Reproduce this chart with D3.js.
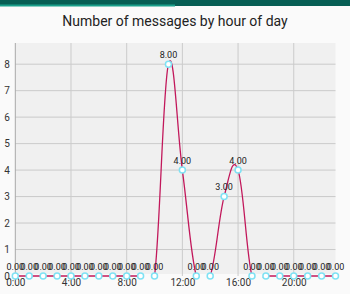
<!DOCTYPE html>
<html>
<head>
<meta charset="utf-8">
<script src="https://cdn.jsdelivr.net/npm/d3@7"></script>
<style>
  body { margin: 0; background: #fafafa; }
  svg { display: block; font-family: Roboto, "Noto Sans", sans-serif; }
</style>
</head>
<body>
<svg id="chart"></svg>
<script>
const hours = d3.range(0, 24);
const counts = [0, 0, 0, 0, 0, 0, 0, 0, 0, 0, 0, 8, 4, 0, 0, 3, 4, 0, 0, 0, 0, 0, 0, 0];
const xTicks = [0, 4, 8, 12, 16, 20];
const yTicks = [0, 1, 2, 3, 4, 5, 6, 7, 8];
const title = "Number of messages by hour of day";

const width = 350, height = 294;
const margin = {top: 43, right: 14.5, bottom: 18, left: 15.3};

const svg = d3.select("#chart")
    .attr("width", width)
    .attr("height", height);

// app bar strip at the top
svg.append("rect").attr("x", 0).attr("y", 0).attr("width", width).attr("height", 6).attr("fill", "#075e54");
svg.append("rect").attr("x", 0).attr("y", 4.5).attr("width", 175).attr("height", 2).attr("fill", "#1a9f8a");

svg.append("text")
    .attr("x", width / 2)
    .attr("y", 25.5)
    .attr("text-anchor", "middle")
    .attr("font-size", 14)
    .attr("fill", "#222")
    .text(title);

const x = d3.scaleLinear()
    .domain([0, 23])
    .range([margin.left, width - margin.right]);

const y = d3.scaleLinear()
    .domain([0, 8.8])
    .range([height - margin.bottom, margin.top]);

// line is clipped just under the zero line, like the original chart
svg.append("defs").append("clipPath")
    .attr("id", "plot-clip")
    .append("rect")
    .attr("x", 0)
    .attr("y", y(8.8) - 5)
    .attr("width", width)
    .attr("height", y(0) - y(8.8) + 6.6);

svg.append("rect")
    .attr("x", x(0))
    .attr("y", y(8.8))
    .attr("width", x(23) - x(0))
    .attr("height", y(0) - y(8.8) - 2)
    .attr("fill", "#f0f0f0");

// grid
svg.append("g")
    .selectAll("line")
    .data(yTicks.filter(d => d > 0))
    .enter().append("line")
    .attr("x1", x(0)).attr("x2", x(23))
    .attr("y1", d => y(d)).attr("y2", d => y(d))
    .attr("stroke", "#c0c0c0")
    .attr("stroke-width", 0.8);

svg.append("g")
    .selectAll("line")
    .data(xTicks.filter(d => d > 0))
    .enter().append("line")
    .attr("x1", d => x(d)).attr("x2", d => x(d))
    .attr("y1", y(8.8)).attr("y2", y(0))
    .attr("stroke", "#cbcbcb")
    .attr("stroke-width", 1);

// y axis line
svg.append("line")
    .attr("x1", x(0)).attr("x2", x(0))
    .attr("y1", y(8.8)).attr("y2", y(0))
    .attr("stroke", "#a8a8a8")
    .attr("stroke-width", 1);

const yAxis = svg.append("g")
    .attr("transform", "translate(" + (x(0) - 5.5) + ",0)")
    .call(d3.axisLeft(y).tickValues(yTicks).tickSize(0).tickPadding(0));
yAxis.select(".domain").remove();
yAxis.selectAll("text").attr("font-size", 10).attr("fill", "#333").attr("font-family", "Roboto");

const xAxis = svg.append("g")
    .attr("transform", "translate(0," + (y(0) + 3) + ")")
    .call(d3.axisBottom(x).tickValues(xTicks).tickFormat(d => d + ":00").tickSize(0).tickPadding(0));
xAxis.select(".domain").remove();
xAxis.selectAll("text").attr("font-size", 10).attr("fill", "#333").attr("font-family", "Roboto");

const line = d3.line()
    .x((d, i) => x(hours[i]))
    .y(d => y(d))
    .curve(d3.curveCardinal.tension(-0.2));

svg.append("path")
    .datum(counts)
    .attr("clip-path", "url(#plot-clip)")
    .attr("fill", "none")
    .attr("stroke", "#c2185b")
    .attr("stroke-width", 1.3)
    .attr("d", line);

svg.append("g")
    .selectAll("text")
    .data(counts)
    .enter().append("text")
    .attr("x", (d, i) => x(hours[i]))
    .attr("y", d => y(d) - 6.3)
    .attr("text-anchor", "middle")
    .attr("font-size", 9)
    .attr("fill", "#222")
    .text(d => d.toFixed(2));

svg.append("g")
    .selectAll("circle")
    .data(counts)
    .enter().append("circle")
    .attr("cx", (d, i) => x(hours[i]))
    .attr("cy", d => y(d))
    .attr("r", 3)
    .attr("fill", "#fff")
    .attr("stroke", "#7fe2f4")
    .attr("stroke-width", 1.5);
</script>
</body>
</html>
